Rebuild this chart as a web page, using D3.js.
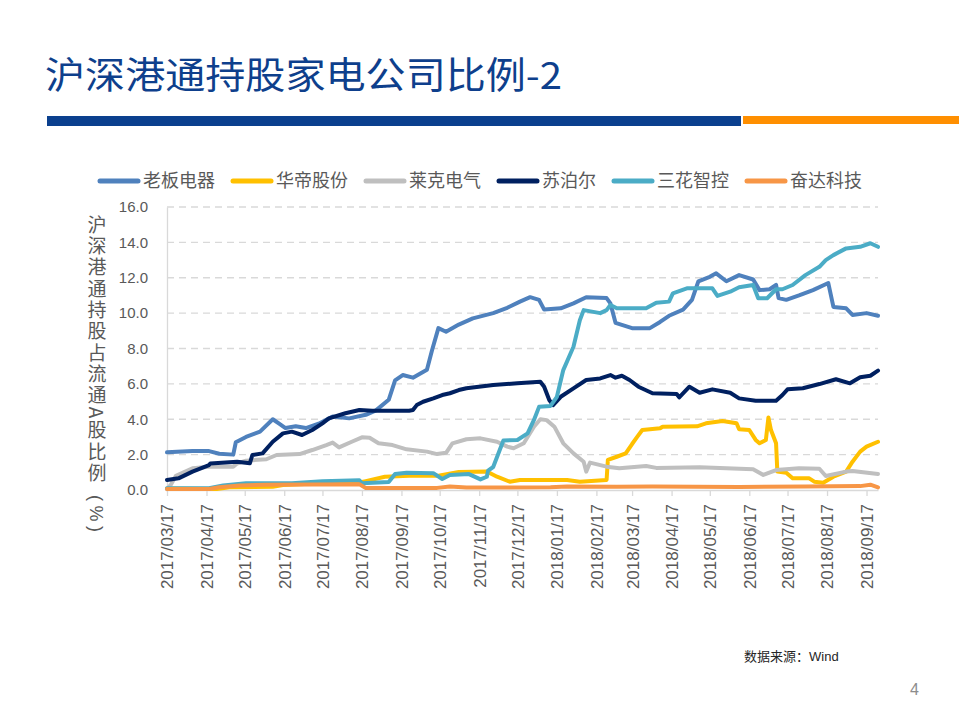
<!DOCTYPE html>
<html>
<meta charset="utf-8">
<script src="https://d3js.org/d3.v7.min.js"></script>
<style>
  body { margin: 0; background: #fff; }
  svg text { font-family: "Liberation Sans", "Noto Sans CJK SC", sans-serif; }
</style>
<body>
<div id="chart"></div>

<script>

var seriesNames = ["老板电器", "华帝股份", "莱克电气", "苏泊尔", "三花智控", "奋达科技"];
var tickLabels = ["2017/03/17", "2017/04/17", "2017/05/17", "2017/06/17", "2017/07/17",
  "2017/08/17", "2017/09/17", "2017/10/17", "2017/11/17", "2017/12/17", "2018/01/17",
  "2018/02/17", "2018/03/17", "2018/04/17", "2018/05/17", "2018/06/17", "2018/07/17",
  "2018/08/17", "2018/09/17"];
var yTicks = [0, 2, 4, 6, 8, 10, 12, 14, 16];
var dateRange = ["2017-03-17", "2018-09-26"];

// 老板电器
var robam = [["2017-03-17",2.13],["2017-04-06",2.2],["2017-04-19",2.2],["2017-04-27",2.05],["2017-05-08",2.0],
  ["2017-05-10",2.7],["2017-05-18",3.0],["2017-05-29",3.3],["2017-06-08",4.0],["2017-06-13",3.75],
  ["2017-06-18",3.5],["2017-06-26",3.6],["2017-07-04",3.5],["2017-07-14",3.75],["2017-07-25",4.15],
  ["2017-08-07",4.05],["2017-08-20",4.25],["2017-08-28",4.5],["2017-09-07",5.1],["2017-09-12",6.2],
  ["2017-09-18",6.5],["2017-09-26",6.35],["2017-10-07",6.8],["2017-10-11",7.9],["2017-10-16",9.15],
  ["2017-10-22",8.95],["2017-11-01",9.35],["2017-11-12",9.7],["2017-11-28",10.0],["2017-12-09",10.3],
  ["2017-12-19",10.65],["2017-12-27",10.9],["2018-01-03",10.75],["2018-01-07",10.2],["2018-01-20",10.27],
  ["2018-01-30",10.55],["2018-02-09",10.9],["2018-02-25",10.85],["2018-02-28",10.55],["2018-03-04",9.45],
  ["2018-03-17",9.15],["2018-03-31",9.15],["2018-04-08",9.5],["2018-04-15",9.85],["2018-04-26",10.2],
  ["2018-05-03",10.75],["2018-05-08",11.8],["2018-05-17",12.05],["2018-05-22",12.25],["2018-05-30",11.8],
  ["2018-06-09",12.15],["2018-06-20",11.9],["2018-06-25",11.3],["2018-07-03",11.35],["2018-07-08",11.6],
  ["2018-07-10",10.85],["2018-07-16",10.75],["2018-07-26",11.0],["2018-08-06",11.3],["2018-08-18",11.7],
  ["2018-08-22",10.35],["2018-09-01",10.27],["2018-09-06",9.9],["2018-09-17",10.0],["2018-09-26",9.85]];

// 华帝股份
var vatti = [["2017-03-17",0.08],["2017-04-25",0.06],["2017-05-05",0.15],["2017-06-08",0.18],["2017-06-16",0.28],
  ["2017-07-20",0.4],["2017-08-15",0.42],["2017-08-20",0.5],["2017-09-04",0.75],["2017-09-23",0.8],
  ["2017-10-15",0.8],["2017-11-01",1.02],["2017-11-23",1.05],["2017-12-01",0.75],["2017-12-11",0.47],
  ["2017-12-19",0.57],["2018-01-25",0.57],["2018-02-04",0.47],["2018-02-25",0.57],["2018-02-26",1.7],
  ["2018-03-05",1.88],["2018-03-12",2.07],["2018-03-17",2.6],["2018-03-21",3.0],["2018-03-25",3.39],
  ["2018-04-08",3.49],["2018-04-10",3.58],["2018-05-07",3.6],["2018-05-14",3.77],["2018-05-27",3.9],
  ["2018-06-07",3.77],["2018-06-09",3.43],["2018-06-17",3.39],["2018-06-22",2.83],["2018-06-25",2.64],
  ["2018-06-30",2.83],["2018-07-02",4.1],["2018-07-04",3.39],["2018-07-08",2.64],["2018-07-09",1.04],
  ["2018-07-16",0.98],["2018-07-21",0.66],["2018-08-03",0.66],["2018-08-07",0.47],["2018-08-14",0.41],
  ["2018-08-22",0.75],["2018-09-01",1.04],["2018-09-06",1.6],["2018-09-12",2.17],["2018-09-17",2.45],
  ["2018-09-26",2.73]];

// 莱克电气
var kingclean = [["2017-03-17",0.05],["2017-03-20",0.3],["2017-03-24",0.8],["2017-04-06",1.23],["2017-04-19",1.32],
  ["2017-05-08",1.32],["2017-05-11",1.5],["2017-05-18",1.66],["2017-06-03",1.74],["2017-06-11",1.98],
  ["2017-06-29",2.03],["2017-07-09",2.26],["2017-07-20",2.54],["2017-07-25",2.68],["2017-07-30",2.41],
  ["2017-08-09",2.73],["2017-08-17",2.98],["2017-08-23",2.95],["2017-08-30",2.64],["2017-09-10",2.54],
  ["2017-09-21",2.3],["2017-10-07",2.17],["2017-10-15",2.03],["2017-10-22",2.1],["2017-10-27",2.64],
  ["2017-11-07",2.87],["2017-11-18",2.92],["2017-12-01",2.73],["2017-12-09",2.45],["2017-12-14",2.36],
  ["2017-12-22",2.64],["2017-12-30",3.58],["2018-01-04",4.0],["2018-01-09",3.95],["2018-01-15",3.58],
  ["2018-01-22",2.64],["2018-01-30",2.07],["2018-02-07",1.6],["2018-02-09",1.04],["2018-02-12",1.55],
  ["2018-02-25",1.32],["2018-03-07",1.23],["2018-03-28",1.36],["2018-04-05",1.25],["2018-05-09",1.28],
  ["2018-06-20",1.17],["2018-06-28",0.85],["2018-07-08",1.13],["2018-07-26",1.23],["2018-08-11",1.2],
  ["2018-08-16",0.79],["2018-09-01",1.04],["2018-09-06",1.08],["2018-09-26",0.9]];

// 苏泊尔
var supor = [["2017-03-17",0.57],["2017-03-26",0.66],["2017-04-06",1.04],["2017-04-19",1.41],["2017-04-20",1.5],
  ["2017-05-11",1.6],["2017-05-21",1.51],["2017-05-23",1.98],["2017-05-31",2.07],["2017-06-08",2.73],
  ["2017-06-16",3.2],["2017-06-23",3.3],["2017-07-01",3.11],["2017-07-09",3.39],["2017-07-17",3.77],
  ["2017-07-22",4.05],["2017-08-04",4.34],["2017-08-15",4.52],["2017-08-25",4.48],["2017-09-23",4.48],
  ["2017-09-26",4.52],["2017-09-29",4.8],["2017-10-04",4.99],["2017-10-12",5.18],["2017-10-19",5.37],
  ["2017-10-25",5.47],["2017-11-01",5.65],["2017-11-07",5.75],["2017-11-28",5.94],["2017-12-17",6.03],
  ["2018-01-04",6.12],["2018-01-07",5.84],["2018-01-11",5.09],["2018-01-14",4.8],["2018-01-20",5.27],
  ["2018-01-30",5.75],["2018-02-09",6.22],["2018-02-20",6.31],["2018-02-28",6.5],["2018-03-04",6.35],
  ["2018-03-09",6.46],["2018-03-15",6.22],["2018-03-22",5.84],["2018-04-02",5.47],["2018-04-21",5.43],
  ["2018-04-23",5.24],["2018-05-01",5.84],["2018-05-09",5.5],["2018-05-19",5.69],["2018-06-02",5.5],
  ["2018-06-09",5.18],["2018-06-22",5.05],["2018-07-08",5.05],["2018-07-13",5.37],["2018-07-17",5.69],
  ["2018-07-29",5.75],["2018-08-11",5.99],["2018-08-24",6.26],["2018-09-04",6.03],["2018-09-12",6.37],
  ["2018-09-20",6.46],["2018-09-26",6.75]];

// 三花智控
var sanhua = [["2017-03-17",0.1],["2017-04-19",0.1],["2017-04-30",0.25],["2017-05-18",0.38],["2017-06-23",0.38],
  ["2017-07-17",0.5],["2017-08-15",0.55],["2017-08-17",0.38],["2017-09-07",0.45],["2017-09-12",0.9],
  ["2017-09-21",0.98],["2017-10-12",0.95],["2017-10-19",0.62],["2017-10-25",0.85],["2017-11-09",0.9],
  ["2017-11-18",0.6],["2017-11-23",0.75],["2017-11-24",1.1],["2017-11-28",1.3],["2017-12-06",2.8],
  ["2017-12-17",2.83],["2017-12-25",3.2],["2017-12-30",3.96],["2018-01-03",4.7],["2018-01-12",4.75],
  ["2018-01-17",5.27],["2018-01-22",6.78],["2018-01-30",8.1],["2018-02-04",9.6],["2018-02-07",10.17],
  ["2018-02-20",10.0],["2018-02-25",10.17],["2018-02-28",10.46],["2018-03-05",10.27],["2018-03-28",10.27],
  ["2018-04-05",10.59],["2018-04-15",10.65],["2018-04-18",11.12],["2018-04-29",11.4],["2018-05-19",11.4],
  ["2018-05-23",10.97],["2018-06-02",11.21],["2018-06-09",11.46],["2018-06-20",11.59],["2018-06-24",10.84],
  ["2018-07-01",10.84],["2018-07-08",11.35],["2018-07-13",11.35],["2018-07-21",11.59],["2018-07-31",12.15],
  ["2018-08-11",12.62],["2018-08-16",13.0],["2018-08-22",13.28],["2018-09-01",13.66],["2018-09-12",13.75],
  ["2018-09-20",13.95],["2018-09-26",13.75]];

// 奋达科技
var fenda = [["2017-03-17",0.06],["2017-04-19",0.06],["2017-04-27",0.15],["2017-05-13",0.26],["2017-06-03",0.3],
  ["2017-08-15",0.32],["2017-08-20",0.12],["2017-10-15",0.12],["2017-10-25",0.2],["2017-11-07",0.14],
  ["2018-01-12",0.15],["2018-01-25",0.2],["2018-03-05",0.18],["2018-04-02",0.2],["2018-06-09",0.17],
  ["2018-07-31",0.2],["2018-09-12",0.22],["2018-09-20",0.3],["2018-09-26",0.15]];

var seriesData = [robam, vatti, kingclean, supor, sanhua, fenda];
var colors = ["#4F81BD", "#FFC000", "#BFBFBF", "#002060", "#4BACC6", "#F79646"];

var parseDate = d3.timeParse("%Y-%m-%d");
var parseTick = d3.timeParse("%Y/%m/%d");

var svg = d3.select("#chart")
  .append("svg")
    .attr("width", 959)
    .attr("height", 719)
    .style("display", "block");

// header
svg.append("text")
  .attr("x", 45)
  .attr("y", 89)
  .attr("textLength", 517)
  .attr("lengthAdjust", "spacingAndGlyphs")
  .style("font-family", "'Noto Sans CJK SC'")
  .style("font-size", "37px")
  .style("fill", "#0E3F8C")
  .text("沪深港通持股家电公司比例-2");

svg.append("rect").attr("x", 47).attr("y", 116).attr("width", 694).attr("height", 10).attr("fill", "#0B408E");
svg.append("rect").attr("x", 743).attr("y", 116).attr("width", 216).attr("height", 8).attr("fill", "#FF8F00");

var margin = {left: 167, right: 878, top: 207, bottom: 490};

var x = d3.scaleTime()
  .domain(dateRange.map(parseDate))
  .range([margin.left, margin.right]);

var y = d3.scaleLinear()
  .domain([0, 16])
  .range([margin.bottom, margin.top]);

// gridlines
svg.append("g")
  .selectAll("line")
  .data(yTicks.filter(function(d) { return d > 0; }))
  .enter()
  .append("line")
    .attr("x1", margin.left)
    .attr("x2", margin.right)
    .attr("y1", function(d) { return y(d); })
    .attr("y2", function(d) { return y(d); })
    .attr("stroke", "#D9D9D9")
    .attr("stroke-width", 1.3)
    .attr("stroke-dasharray", "7,5");

// y axis
var yAxis = svg.append("g")
  .attr("transform", "translate(" + margin.left + ",0)")
  .call(d3.axisLeft(y).tickValues(yTicks).tickFormat(d3.format(".1f")).tickSize(0).tickPadding(19));
yAxis.select(".domain").attr("stroke", "#D9D9D9").attr("stroke-width", 1.3);
yAxis.selectAll("text")
  .style("font-size", "15px")
  .style("fill", "#595959");

// x axis
var xAxis = svg.append("g")
  .attr("transform", "translate(0," + margin.bottom + ")")
  .call(d3.axisBottom(x).tickValues(tickLabels.map(parseTick))
    .tickFormat(function(d, i) { return tickLabels[i]; })
    .tickSize(6).tickSizeOuter(0));
xAxis.select(".domain").attr("stroke", "#D9D9D9").attr("stroke-width", 1.3);
xAxis.selectAll(".tick line").attr("stroke", "#D9D9D9").attr("stroke-width", 1.3);
xAxis.selectAll("text")
  .attr("transform", "rotate(-90)")
  .attr("x", -14)
  .attr("y", 0)
  .attr("dy", "0.35em")
  .style("text-anchor", "end")
  .style("font-size", "17px")
  .style("fill", "#595959");

// y axis title, stacked vertically, unit turned sideways below it
svg.append("text")
  .attr("x", 97)
  .attr("y", 215)
  .style("writing-mode", "vertical-rl")
  .style("font-family", "'Noto Sans CJK SC'")
  .style("font-size", "19px")
  .style("letter-spacing", "2.3px")
  .style("fill", "#595959")
  .text("沪深港通持股占流通A股比例");

svg.append("text")
  .attr("transform", "translate(90,495) rotate(90)")
  .attr("textLength", 37)
  .attr("lengthAdjust", "spacing")
  .style("font-size", "18px")
  .style("fill", "#595959")
  .text("(%)");

// lines
var line = d3.line()
  .x(function(d) { return x(parseDate(d[0])); })
  .y(function(d) { return y(d[1]); });

svg.append("g")
  .selectAll("path")
  .data(seriesData)
  .enter()
  .append("path")
    .attr("d", line)
    .attr("fill", "none")
    .attr("stroke", function(d, i) { return colors[i]; })
    .attr("stroke-width", 4)
    .attr("stroke-linejoin", "round")
    .attr("stroke-linecap", "round");

// legend
var lx = 98;
seriesNames.forEach(function(name, i) {
  svg.append("line")
    .attr("x1", lx + 2).attr("x2", lx + 40)
    .attr("y1", 181).attr("y2", 181)
    .attr("stroke", colors[i])
    .attr("stroke-width", 5)
    .attr("stroke-linecap", "round");
  var t = svg.append("text")
    .attr("x", lx + 45)
    .attr("y", 181)
    .attr("dy", "0.35em")
    .style("font-family", "'Noto Sans CJK SC'")
    .style("font-size", "18px")
    .style("fill", "#595959")
    .text(name);
  lx = lx + 45 + t.node().getComputedTextLength() + 16;
});

// footer
svg.append("text")
  .attr("x", 744)
  .attr("y", 661)
  .style("font-size", "13px")
  .style("fill", "#262626")
  .text("数据来源：Wind");

svg.append("text")
  .attr("x", 910)
  .attr("y", 695)
  .style("font-size", "16px")
  .style("fill", "#8C8C8C")
  .text("4");

</script>
</body>
</html>
